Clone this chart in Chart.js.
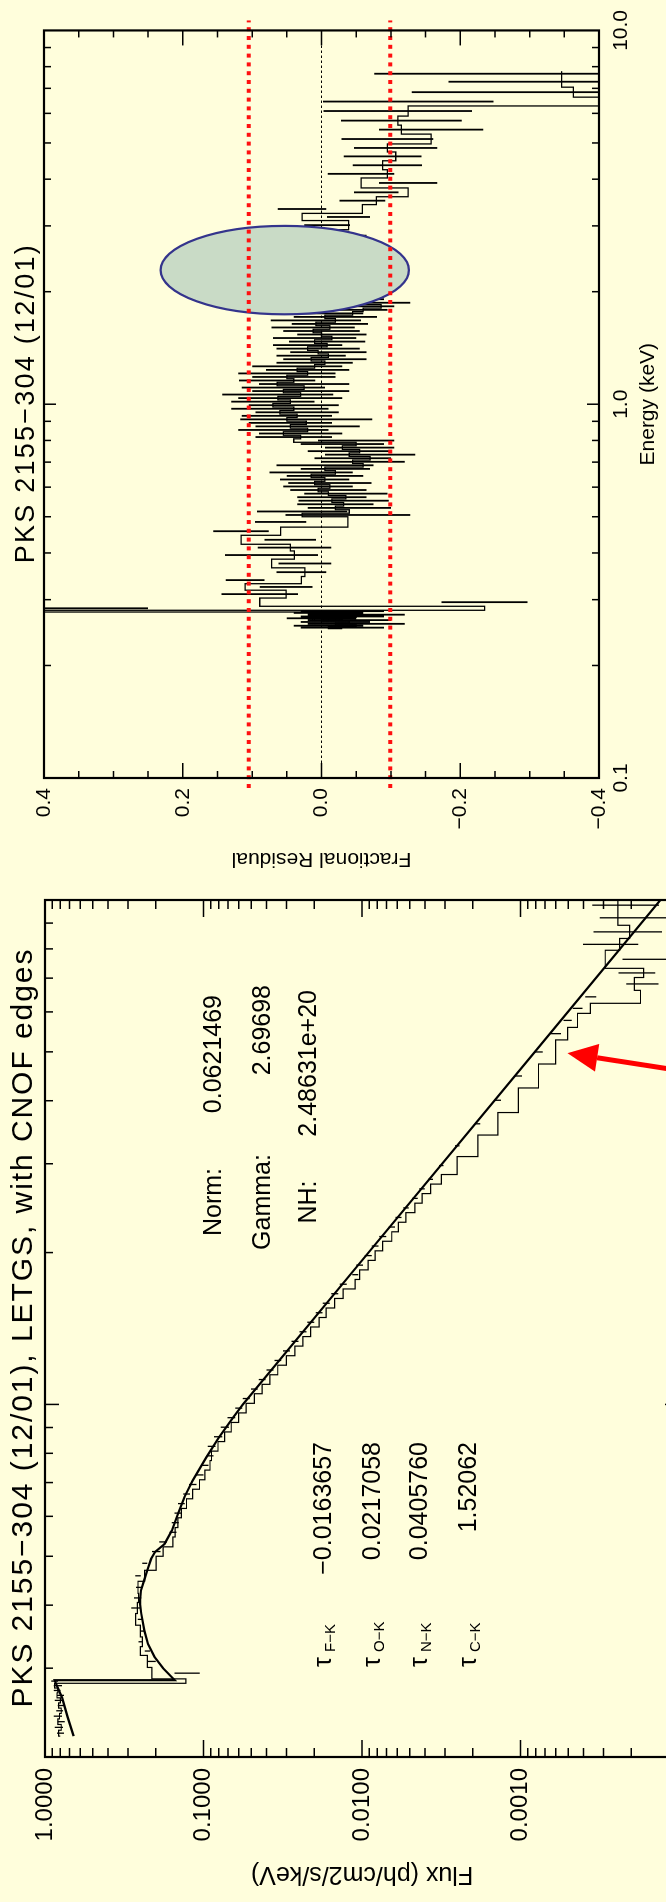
<!DOCTYPE html>
<html lang="en">
<head>
<meta charset="UTF-8" />
<title>PKS 2155-304 (12/01) LETGS spectrum</title>
<style>
  html, body { margin: 0; padding: 0; overflow: hidden; background: #fffedc; }
  body { width: 666px; height: 1902px; position: relative; }
  /* the sheet is laid out landscape, then turned a quarter turn */
  #sheet {
    position: absolute; left: 0; top: 0;
    width: 1902px; height: 666px;
    overflow: hidden;
    transform-origin: 0 0;
    transform: translateY(1902px) rotate(-90deg);
  }
  #fluxChart { position: absolute; left: 0; top: 0; }
  #residChart { position: absolute; left: 1000px; top: 0; }
</style>
</head>
<body>
<div id="sheet">
  <canvas id="fluxChart" width="1030" height="760"></canvas>
  <canvas id="residChart" width="902" height="666"></canvas>
</div>

<script src="https://cdn.jsdelivr.net/npm/chart.js"></script>
<script>
  const FONT = '"Liberation Sans", Arial, Helvetica, sans-serif';
  Chart.defaults.font.family = FONT;
  Chart.defaults.color = '#000';
  const MINUS = '\u2212';

  // ---------- flux panel ----------
  // absorbed power law with C, N, O, F edges (keV, ph/cm2/s/keV)
  const modelEnergy = [0.220, 0.240, 0.262, 0.284, 0.284, 0.300, 0.316, 0.335, 0.356, 0.385,
    0.405, 0.428, 0.448, 0.472, 0.494, 0.510, 0.529, 0.563, 0.607, 0.655,
    0.707, 0.785, 0.860, 0.942, 1.00, 2.00, 5.00, 10.0];
  const modelFlux = [0.66, 0.72, 0.78, 0.87, 0.152, 0.180, 0.204, 0.224, 0.236, 0.247,
    0.252, 0.248, 0.237, 0.225, 0.214, 0.202, 0.176, 0.158, 0.145, 0.132,
    0.117, 0.096, 0.080, 0.065, 0.0565, 0.0091, 0.000812, 0.000131];

  // LETGS bins: edges (keV), flux and fractional 1-sigma error
  const fluxEdges = [0.220, 0.226, 0.232, 0.238, 0.244, 0.250, 0.256, 0.262, 0.268, 0.274, 0.280, 0.2857,
    0.301, 0.318, 0.331, 0.346, 0.365, 0.385, 0.405, 0.422, 0.446, 0.469, 0.500,
    0.522, 0.546, 0.570, 0.596, 0.622, 0.650, 0.679, 0.709, 0.741, 0.774,
    0.808, 0.844, 0.882, 0.921, 0.962, 1.005, 1.050, 1.096, 1.145, 1.196,
    1.249, 1.305, 1.363, 1.424, 1.487, 1.553, 1.622, 1.694, 1.769, 1.848,
    1.930, 2.016, 2.106, 2.199, 2.297, 2.400, 2.506, 2.618, 2.734, 2.856,
    3.10, 3.42, 3.79, 4.24, 4.73, 5.28, 5.59,
    5.96, 6.24, 6.62, 7.02, 7.32, 7.95, 8.39, 8.91, 9.54, 10.0];
  const fluxValues = [0.80, 0.82, 0.79, 0.83, 0.81, 0.79, 0.82, 0.80, 0.84, 0.83, 0.87,
    0.129,
    0.212, 0.226, 0.250, 0.243, 0.250, 0.268, 0.261, 0.257, 0.259, 0.235,
    0.199, 0.180, 0.156, 0.151, 0.145, 0.138, 0.128, 0.117, 0.106, 0.098,
    0.091, 0.0890, 0.0810, 0.0735, 0.0668, 0.0600, 0.0538, 0.0478, 0.0427, 0.0381,
    0.0340, 0.0300, 0.0265, 0.0236, 0.0211, 0.01866, 0.01682, 0.01488, 0.01315, 0.01104,
    0.01036, 0.00915, 0.00827, 0.00741, 0.00649, 0.00589, 0.00528, 0.00464, 0.00418, 0.00369,
    0.00316, 0.00251, 0.00186, 0.00139, 0.00103, 0.00077, 0.00060,
    0.000505, 0.000437, 0.000362, 0.000175, 0.000191, 0.000167, 0.000292, 0.000237, 0.000205, 0.000243];
  const fluxErrors = [0.05, 0.06, 0.05, 0.06, 0.05, 0.05, 0.06, 0.05, 0.05, 0.06, 0.05,
    0.18,
    0.055, 0.038, 0.028, 0.036, 0.038, 0.067, 0.053, 0.037, 0.040, 0.037,
    0.060, 0.055, 0.050, 0.050, 0.050, 0.050, 0.050, 0.055, 0.055, 0.050,
    0.050, 0.055, 0.060, 0.060, 0.055, 0.050, 0.050, 0.050, 0.050, 0.050,
    0.050, 0.050, 0.050, 0.050, 0.050, 0.050, 0.050, 0.050, 0.050, 0.045,
    0.050, 0.050, 0.050, 0.050, 0.045, 0.045, 0.040, 0.040, 0.040, 0.035,
    0.033, 0.033, 0.035, 0.045, 0.050, 0.060, 0.075,
    0.06, 0.07, 0.08, 0.23, 0.26, 0.36, 0.38, 0.46, 0.54, 0.45];

  // fit results printed on the panel
  const fitLabels = ['Norm:', 'Gamma:', 'NH:'];
  const fitValues = ['0.0621469', '2.69698', '2.48631e+20'];
  const edgeNames = ['F\u2212K', 'O\u2212K', 'N\u2212K', 'C\u2212K'];
  const edgeTaus = [MINUS + '0.0163657', '0.0217058', '0.0405760', '1.52062'];

  // arrow pointing at the 5 keV bins (tail, tip as [keV, flux])
  const arrowTail = [4.48, 6.0e-5];
  const arrowTip = [4.97, 5.05e-4];

  // ---------- residual panel ----------
  const residEdges = [
    0.251, 0.254, 0.257, 0.260, 0.263, 0.266, 0.269, 0.272, 0.275, 0.278, 0.281,
    0.288, 0.303, 0.318, 0.331, 0.346, 0.365, 0.385, 0.405, 0.422, 0.446, 0.469, 0.500,
    0.511, 0.522, 0.534, 0.546, 0.558, 0.570, 0.583, 0.596, 0.609, 0.622,
    0.636, 0.650, 0.664, 0.679, 0.694, 0.709, 0.725, 0.741, 0.757, 0.774,
    0.791, 0.808, 0.826, 0.844, 0.863, 0.882, 0.901, 0.921, 0.941, 0.962,
    0.983, 1.005, 1.027, 1.050, 1.073, 1.096, 1.120, 1.145, 1.170, 1.196,
    1.222, 1.249, 1.277, 1.305, 1.334, 1.363, 1.393, 1.424, 1.455, 1.487,
    1.520, 1.553, 1.587, 1.622, 1.658, 1.694, 1.731, 1.769, 1.808, 1.848,
    1.889, 1.930, 1.973, 2.016, 2.060, 2.106, 2.152, 2.199, 2.248, 2.297,
    2.348, 2.400, 2.452, 2.506, 2.561, 2.618, 2.675, 2.734, 2.794, 2.856, 2.930,
    3.10, 3.24, 3.42, 3.59, 3.79, 4.03, 4.24, 4.48, 4.73, 4.97, 5.28, 5.58, 5.90, 6.28, 6.63, 7.05, 7.54, 7.78];
  const residValues = [
    -0.03, -0.01, -0.05, -0.02, -0.04, 0.00, -0.03, -0.05, -0.01, -0.03,
    0.45, -0.235, 0.089, 0.051, 0.110, 0.029, 0.024, 0.072, 0.039, 0.045, 0.116, 0.059,
    -0.038, 0.028, -0.040, -0.020, -0.032, -0.015, -0.035, -0.010, 0.005, -0.012,
    0.010, -0.005, 0.015, -0.020, -0.005, -0.060, -0.045, -0.070, -0.040, -0.055,
    -0.030, -0.050, 0.040, 0.030, 0.055, 0.020, 0.045, 0.022, 0.050, 0.035,
    0.060, 0.040, 0.070, 0.045, 0.063, 0.030, 0.055, 0.025, 0.064, 0.040,
    0.050, 0.020, 0.035, 0.010, -0.005, 0.015, -0.010, 0.005, 0.020, -0.008,
    0.010, -0.015, 0.000, 0.012, -0.012, 0.008, -0.020, -0.005, -0.045, -0.060,
    -0.086, -0.030, -0.010, -0.040, -0.020, -0.035, 0.000, -0.025, -0.015, -0.040,
    -0.010, -0.030, 0.005, -0.020, -0.035, -0.010, -0.025, 0.000, -0.015, -0.030, -0.005,
    -0.008, -0.039, 0.028, -0.059, -0.079, -0.125, -0.057, -0.095, -0.088, -0.107,
    -0.095, -0.158, -0.115, -0.110, -0.125, -0.45, -0.363, -0.346];
  const residErrors = [
    0.06, 0.05, 0.07, 0.05, 0.06, 0.05, 0.06, 0.07, 0.05, 0.06,
    0.20, 0.062, 0.055, 0.038, 0.028, 0.036, 0.038, 0.067, 0.053, 0.037, 0.040, 0.037,
    0.090, 0.065, 0.060, 0.055, 0.065, 0.050, 0.060, 0.055, 0.050, 0.060,
    0.050, 0.055, 0.060, 0.050, 0.070, 0.060, 0.055, 0.065, 0.060, 0.050,
    0.060, 0.055, 0.055, 0.060, 0.065, 0.075, 0.060, 0.095, 0.065, 0.060,
    0.070, 0.065, 0.060, 0.075, 0.080, 0.070, 0.060, 0.065, 0.055, 0.060,
    0.070, 0.060, 0.065, 0.055, 0.060, 0.050, 0.055, 0.060, 0.050, 0.055,
    0.060, 0.050, 0.055, 0.060, 0.055, 0.065, 0.060, 0.055, 0.050, 0.045,
    0.042, 0.060, 0.055, 0.060, 0.050, 0.055, 0.060, 0.050, 0.055, 0.045,
    0.050, 0.045, 0.050, 0.040, 0.045, 0.040, 0.045, 0.040, 0.040, 0.035, 0.035,
    0.033, 0.031, 0.035, 0.033, 0.032, 0.042, 0.048, 0.050, 0.056, 0.060,
    0.066, 0.075, 0.087, 0.107, 0.123, 0.32, 0.18, 0.27];

  const zeroLine = [{ x: 0.1, y: 0 }, { x: 10, y: 0 }];
  const limitLines = [0.105, -0.099];          // dotted red +/-10% guides
  const ellipseEnergy = [1.74, 3.0];           // shaded region, keV
  const ellipseResid = [0.232, -0.126];

  // ---------- helpers ----------
  function steps(edges, values) {
    const pts = values.map((v, i) => ({ x: edges[i], y: v }));
    pts.push({ x: edges[edges.length - 1], y: values[values.length - 1] });
    return pts;
  }

  function logMinor(lo, hi) {
    const out = [];
    for (let d = lo; d < hi * 0.999; d *= 10)
      for (let k = 2; k <= 9; k++) out.push(+(k * d).toPrecision(3));
    return out;
  }

  function drawErrorBars(chart, edges, values, errs, relative, width) {
    const { ctx, chartArea: a, scales: { x, y } } = chart;
    ctx.save();
    ctx.beginPath();
    ctx.rect(a.left, a.top, a.right - a.left, a.bottom - a.top);
    ctx.clip();
    ctx.strokeStyle = '#000';
    ctx.lineWidth = width;
    ctx.beginPath();
    values.forEach((v, i) => {
      const e = relative ? v * errs[i] : errs[i];
      const px = x.getPixelForValue(Math.sqrt(edges[i] * edges[i + 1]));
      ctx.moveTo(px, y.getPixelForValue(v + e));
      ctx.lineTo(px, y.getPixelForValue(v - e));
    });
    ctx.stroke();
    ctx.restore();
  }

  // box round the plot with inward ticks on every side
  function drawFrame(chart, t) {
    const { ctx, chartArea: a, scales: { x, y } } = chart;
    ctx.save();
    ctx.strokeStyle = '#000';
    ctx.lineWidth = 1.5;
    ctx.beginPath();
    const xt = (vals, len) => vals.forEach(v => {
      const p = x.getPixelForValue(v);
      ctx.moveTo(p, a.top); ctx.lineTo(p, a.top + len);
      ctx.moveTo(p, a.bottom); ctx.lineTo(p, a.bottom - len);
    });
    const yt = (vals, len) => vals.forEach(v => {
      const p = y.getPixelForValue(v);
      ctx.moveTo(a.left, p); ctx.lineTo(a.left + len, p);
      ctx.moveTo(a.right, p); ctx.lineTo(a.right - len, p);
    });
    xt(t.xMinor, t.xLen[0]); xt(t.xMajor, t.xLen[1]);
    yt(t.yMinor, t.yLen[0]); yt(t.yMajor, t.yLen[1]);
    ctx.stroke();
    ctx.lineWidth = 2.2;
    ctx.strokeRect(a.left, a.top, a.right - a.left, a.bottom - a.top);
    ctx.restore();
  }

  function spacedText(ctx, str, cx, y, size, width) {
    ctx.save();
    ctx.font = size + 'px ' + FONT;
    const natural = ctx.measureText(str).width;
    let w = natural;
    if ('letterSpacing' in ctx) {
      ctx.letterSpacing = ((width - natural) / (str.length - 1)).toFixed(2) + 'px';
      w = width;
    }
    ctx.textAlign = 'left';
    ctx.textBaseline = 'alphabetic';
    ctx.fillText(str, cx - w / 2, y);
    ctx.restore();
  }

  function text(ctx, str, x, y, size, align, angle) {
    ctx.save();
    ctx.font = size + 'px ' + FONT;
    ctx.fillStyle = '#000';
    ctx.textAlign = align;
    ctx.textBaseline = 'alphabetic';
    ctx.translate(x, y);
    if (angle) ctx.rotate(angle);
    ctx.fillText(str, 0, 0);
    ctx.restore();
  }

  // ---------- flux chart ----------
  const fluxDecor = {
    id: 'fluxDecor',
    afterDatasetsDraw(chart) {
      drawErrorBars(chart, fluxEdges, fluxValues, fluxErrors, true, 1.3);
      drawFrame(chart, {
        xMinor: logMinor(0.1, 10).filter(v => v > 0.2), xMajor: [1], xLen: [8, 14],
        yMinor: logMinor(1e-4, 1), yMajor: [1e-3, 1e-2, 1e-1], yLen: [9, 17]
      });
    },
    afterDraw(chart) {
      const { ctx, chartArea: a, scales: { x, y } } = chart;
      const cx = (a.left + a.right) / 2;
      spacedText(ctx, 'PKS 2155' + MINUS + '304 (12/01), LETGS, with CNOF edges', cx, 32, 30, 758);
      text(ctx, 'Flux (ph/cm2/s/keV)', 35, (a.top + a.bottom) / 2, 25, 'center', -Math.PI / 2);

      const rows = [221, 270, 316];
      const valueRight = [907, 917, 912];
      fitLabels.forEach((s, i) => {
        text(ctx, s, 700, rows[i], 25, 'center');
        text(ctx, fitValues[i], valueRight[i], rows[i], 25, 'right');
      });
      const tauRows = [331, 380, 427, 476];
      edgeNames.forEach((s, i) => {
        text(ctx, '\u03c4', 235, tauRows[i], 25, 'left');
        text(ctx, s, 250, tauRows[i] + 4, 15, 'left');
        text(ctx, edgeTaus[i], 460, tauRows[i], 25, 'right');
      });

      // red arrow
      const x0 = x.getPixelForValue(arrowTail[0]), y0 = y.getPixelForValue(arrowTail[1]);
      const x1 = x.getPixelForValue(arrowTip[0]), y1 = y.getPixelForValue(arrowTip[1]);
      const ang = Math.atan2(y1 - y0, x1 - x0);
      const head = 30, half = 14;
      const bx = x1 - head * Math.cos(ang), by = y1 - head * Math.sin(ang);
      ctx.save();
      ctx.strokeStyle = '#ff0000';
      ctx.fillStyle = '#ff0000';
      ctx.lineWidth = 5;
      ctx.beginPath();
      ctx.moveTo(x0, y0);
      ctx.lineTo(bx, by);
      ctx.stroke();
      ctx.beginPath();
      ctx.moveTo(x1, y1);
      ctx.lineTo(bx + half * Math.sin(ang), by - half * Math.cos(ang));
      ctx.lineTo(bx - half * Math.sin(ang), by + half * Math.cos(ang));
      ctx.closePath();
      ctx.fill();
      ctx.restore();
    }
  };

  new Chart(document.getElementById('fluxChart'), {
    type: 'line',
    data: {
      datasets: [{
        data: modelEnergy.map((e, i) => ({ x: e, y: modelFlux[i] })),
        borderColor: '#000', borderWidth: 2.2, pointRadius: 0
      }, {
        data: steps(fluxEdges, fluxValues),
        stepped: 'after', borderColor: '#000', borderWidth: 1.2, pointRadius: 0
      }]
    },
    options: {
      responsive: false,
      animation: false,
      layout: { padding: { left: 0, right: 28, top: 45, bottom: 0 } },
      plugins: { legend: { display: false }, tooltip: { enabled: false } },
      scales: {
        x: {
          type: 'logarithmic', min: 0.2, max: 10,
          afterFit(s) { s.height = 81; },
          ticks: { display: false },
          grid: { display: false, drawTicks: false },
          border: { display: false }
        },
        y: {
          type: 'logarithmic', min: 1e-4, max: 1,
          afterFit(s) { s.width = 145; },
          afterBuildTicks(s) { s.ticks = [1e-4, 1e-3, 1e-2, 1e-1, 1].map(v => ({ value: v })); },
          ticks: { callback: v => v.toFixed(4), font: { size: 24 }, padding: 11, color: '#000' },
          grid: { display: false, drawTicks: false },
          border: { display: false }
        }
      }
    },
    plugins: [fluxDecor]
  });

  // ---------- residual chart ----------
  const residDecor = {
    id: 'residDecor',
    afterDatasetsDraw(chart) {
      drawErrorBars(chart, residEdges, residValues, residErrors, false, 1.8);
      const { ctx, chartArea: a, scales: { x, y } } = chart;

      const ex0 = x.getPixelForValue(ellipseEnergy[0]), ex1 = x.getPixelForValue(ellipseEnergy[1]);
      const ey0 = y.getPixelForValue(ellipseResid[0]), ey1 = y.getPixelForValue(ellipseResid[1]);
      ctx.save();
      ctx.beginPath();
      ctx.ellipse((ex0 + ex1) / 2, (ey0 + ey1) / 2, Math.abs(ex1 - ex0) / 2, Math.abs(ey1 - ey0) / 2, 0, 0, Math.PI * 2);
      ctx.fillStyle = '#c9dbc6';
      ctx.fill();
      ctx.strokeStyle = '#34348c';
      ctx.lineWidth = 2.2;
      ctx.stroke();

      ctx.strokeStyle = '#ff1010';
      ctx.lineWidth = 4;
      ctx.setLineDash([4, 4.8]);
      limitLines.forEach(v => {
        const py = y.getPixelForValue(v);
        ctx.beginPath();
        ctx.moveTo(a.left - 10, py);
        ctx.lineTo(a.right + 10, py);
        ctx.stroke();
      });
      ctx.restore();

      const yMinor = [], yMajor = [-0.2, 0, 0.2];
      for (let k = -7; k <= 7; k++) if (k % 4 !== 0) yMinor.push(k * 0.05);
      drawFrame(chart, {
        xMinor: logMinor(0.1, 10), xMajor: [1], xLen: [7, 12],
        yMinor, yMajor, yLen: [7, 15]
      });
    },
    afterDraw(chart) {
      const { ctx, chartArea: a } = chart;
      const cx = (a.left + a.right) / 2;
      spacedText(ctx, 'PKS 2155' + MINUS + '304 (12/01)', cx, 34, 27, 318);
      text(ctx, 'Energy (keV)', cx, 654, 21, 'center');
      text(ctx, 'Fractional Residual', 49, (a.top + a.bottom) / 2, 21, 'center', -Math.PI / 2);
    }
  };

  new Chart(document.getElementById('residChart'), {
    type: 'line',
    data: {
      datasets: [{
        data: zeroLine,
        borderColor: '#000', borderWidth: 1, borderDash: [2.5, 2.5], pointRadius: 0
      }, {
        data: steps(residEdges, residValues),
        stepped: 'after', borderColor: '#000', borderWidth: 1.3, pointRadius: 0
      }]
    },
    options: {
      responsive: false,
      animation: false,
      layout: { padding: { left: 0, right: 27, top: 44, bottom: 0 } },
      plugins: { legend: { display: false }, tooltip: { enabled: false } },
      scales: {
        x: {
          type: 'logarithmic', min: 0.1, max: 10,
          afterFit(s) { s.height = 67; },
          afterBuildTicks(s) { s.ticks = [0.1, 1, 10].map(v => ({ value: v })); },
          ticks: { callback: v => v.toFixed(1), font: { size: 21 }, padding: 10, maxRotation: 0, autoSkip: false, color: '#000' },
          grid: { display: false, drawTicks: false },
          border: { display: false }
        },
        y: {
          type: 'linear', min: -0.4, max: 0.4,
          afterFit(s) { s.width = 124; },
          afterBuildTicks(s) { s.ticks = [-0.4, -0.2, 0, 0.2, 0.4].map(v => ({ value: v })); },
          ticks: { callback: v => (v < 0 ? MINUS : '') + Math.abs(v).toFixed(1), font: { size: 21 }, padding: 10, color: '#000' },
          grid: { display: false, drawTicks: false },
          border: { display: false }
        }
      }
    },
    plugins: [residDecor]
  });
</script>
</body>
</html>
